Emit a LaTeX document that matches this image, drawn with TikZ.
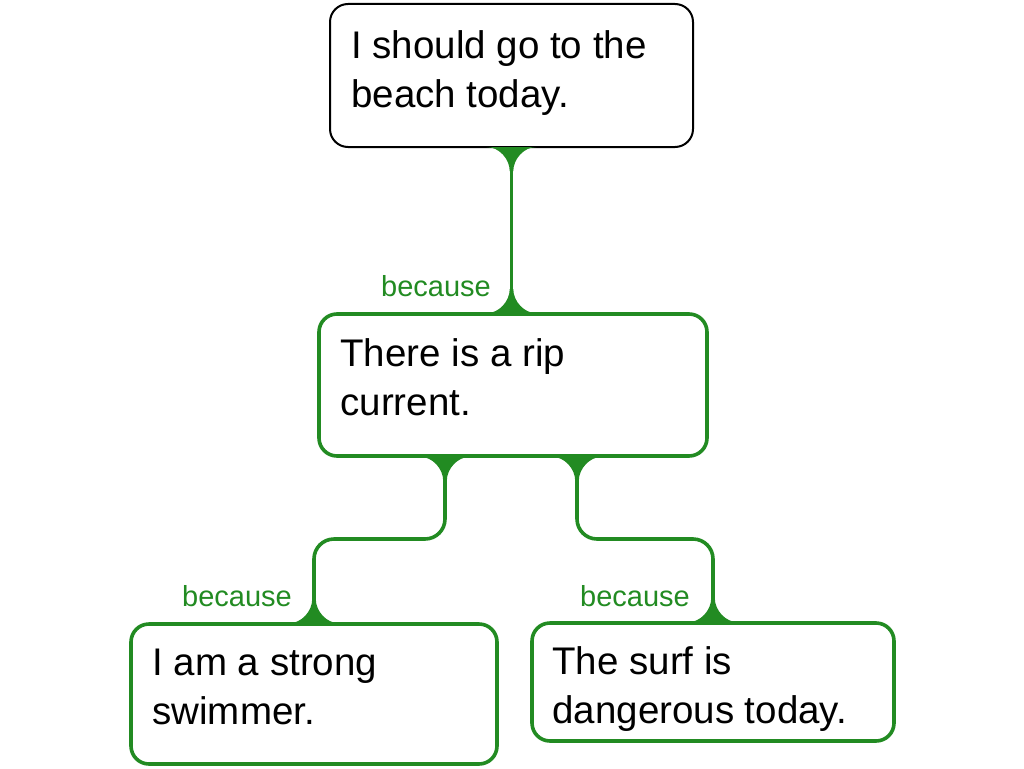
\documentclass[tikz,border=0pt]{standalone}
\usepackage{fontspec}
\setmainfont{Liberation Sans}
\definecolor{arg}{HTML}{228B22}
\tikzset{
  claim/.style={draw=black, line width=2pt, rounded corners=18pt, fill=white, inner sep=0pt},
  reason/.style={draw=arg, line width=3.6pt, rounded corners=18pt, fill=white, inner sep=0pt},
  txt/.style={anchor=north west, inner sep=0pt, align=left, text=black, font=\fontsize{38.5}{49}\selectfont},
  lab/.style={anchor=base east, inner sep=0pt, text=arg, font=\fontsize{29}{32}\selectfont},
  conn/.style={draw=arg, line width=3.6pt},
  flaredown/.pic={\fill[arg] (-24.8,-1) .. controls (-12.5,-1) and (-1.8,11) .. (-1.8,23) -- (1.8,23) .. controls (1.8,11) and (12.5,-1) .. (24.8,-1) -- cycle;},
  flareup/.pic={\fill[arg] (-24.8,1) .. controls (-12.5,1) and (-1.8,-11) .. (-1.8,-23) -- (1.8,-23) .. controls (1.8,-11) and (12.5,1) .. (24.8,1) -- cycle;}
}
\begin{document}
\begin{tikzpicture}[x=1pt,y=-1pt]
\useasboundingbox (0,0) rectangle (1024,768);
% boxes
\node[claim, minimum width=363pt, minimum height=143pt] (top) at (511.5,75.5) {};
\node[reason, minimum width=388pt, minimum height=142pt] (mid) at (513,385) {};
\node[reason, minimum width=366pt, minimum height=140pt] (bl) at (314,694) {};
\node[reason, minimum width=362pt, minimum height=118pt] (br) at (713,682) {};
% texts
\node[txt] (ttop) at ([xshift=22pt,yshift=-21pt]top.north west) {\strut I should go to the\\\strut beach today.};
\node[txt] (tmid) at ([xshift=23pt,yshift=-20pt]mid.north west) {\strut There is a rip\\\strut current.};
\node[txt] (tbl) at ([xshift=23pt,yshift=-19pt]bl.north west) {\strut I am a strong\\\strut swimmer.};
\node[txt] (tbr) at ([xshift=22pt,yshift=-19pt]br.north west) {\strut The surf is\\\strut dangerous today.};
% connectors
\coordinate (ml) at ([xshift=-68pt]mid.south);
\coordinate (mr) at ([xshift=64pt]mid.south);
\coordinate (lvl) at (0,539);
\draw[conn] (top.south) -- (top.south |- mid.north);
\pic at (top.south) {flaredown};
\pic at (top.south |- mid.north) {flareup};
\draw[conn, rounded corners=20pt] (ml) -- (ml |- lvl) -- (bl.north |- lvl) -- (bl.north);
\draw[conn, rounded corners=20pt] (mr) -- (mr |- lvl) -- (br.north |- lvl) -- (br.north);
\pic at (ml) {flaredown};
\pic at (mr) {flaredown};
\pic at (bl.north) {flareup};
\pic at (br.north) {flareup};
% labels
\node[lab] (b1) at ([xshift=-22pt,yshift=16pt]mid.north) {because};
\node[lab] (b2) at ([xshift=-22pt,yshift=16pt]bl.north) {because};
\node[lab] (b3) at ([xshift=-23pt,yshift=15pt]br.north) {because};
\end{tikzpicture}
\end{document}
